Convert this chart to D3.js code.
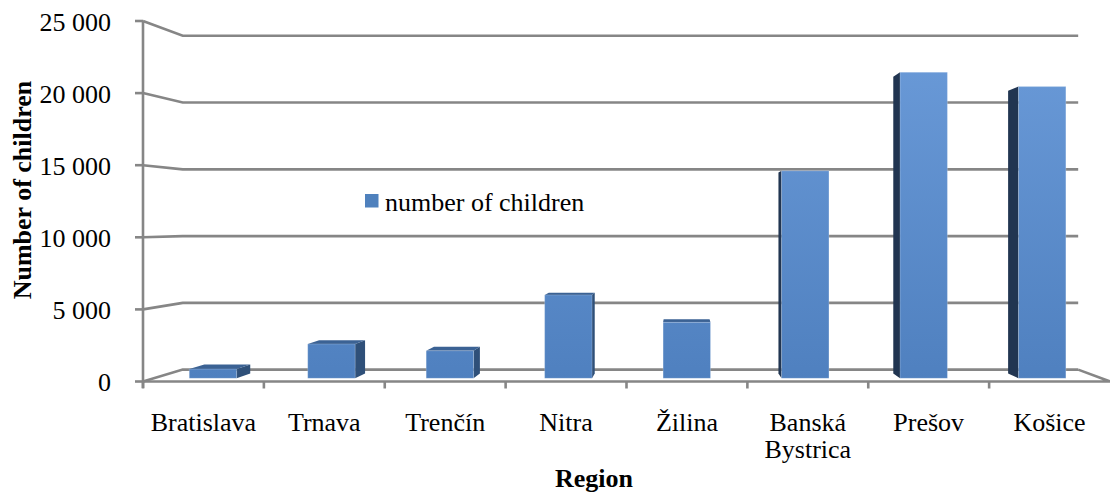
<!DOCTYPE html>
<html>
<head>
<meta charset="utf-8">
<script src="https://cdn.jsdelivr.net/npm/d3@7"></script>
<style>
  html, body { margin: 0; padding: 0; background: #fff; }
  svg { display: block; }
  text { font-family: "Liberation Serif", "Times New Roman", serif; fill: #000; }
</style>
</head>
<body>
<svg id="chart" width="1110" height="495"></svg>
<script>
// Children per region
const regions = ["Bratislava", "Trnava", "Trenčín", "Nitra", "Žilina", "Banská Bystrica", "Prešov", "Košice"];
const children = [650, 2430, 1950, 5900, 3960, 14680, 21660, 20640];
const yTicks = [0, 5000, 10000, 15000, 20000, 25000];
const yTickLabels = ["0", "5 000", "10 000", "15 000", "20 000", "25 000"];
const seriesName = "number of children";

const svg = d3.select("#chart");

// Front plane scales
const x = d3.scaleBand().domain(regions).range([143, 1110]);
const y = d3.scaleLinear().domain([0, 25000]).range([381.5, 21]);

// Simple perspective: z = 0 front plane, z = 1 back wall
const VP = [680, 221];
const depthK = 1 / 0.926 - 1;
const s = z => 1 / (1 + depthK * z);
const proj = (px, py, z) => [VP[0] + (px - VP[0]) * s(z), VP[1] + (py - VP[1]) * s(z)];
const line = d3.line();

const gridColor = "#868686";
const gridWidth = 2.6;
const xL = x.range()[0], xR = x.range()[1];

// Back wall and left wall gridlines
const grid = svg.append("g").attr("fill", "none").attr("stroke", gridColor).attr("stroke-width", gridWidth);
yTicks.forEach(t => {
  grid.append("path").attr("d", line([[xL, y(t)], proj(xL, y(t), 1), proj(xR, y(t), 1)]));
});
// Floor front edge and right edge
grid.append("path").attr("d", line([[xL, y(0)], [xR, y(0)], proj(xR, y(0), 1)]));
// Value axis line
grid.append("path").attr("d", line([[xL, y(25000)], [xL, y(0) + 6.5]]));
// Value ticks
yTicks.forEach(t => {
  grid.append("path").attr("d", line([[xL - 8, y(t)], [xL, y(t)]]));
});
// Category ticks
regions.forEach(r => {
  grid.append("path").attr("d", line([[x(r), y(0)], [x(r), y(0) + 7]]));
});

// Bar shading
const defs = svg.append("defs");
const grad = defs.append("linearGradient")
  .attr("id", "barFront").attr("gradientUnits", "userSpaceOnUse")
  .attr("x1", 0).attr("y1", y(25000)).attr("x2", 0).attr("y2", y(0));
grad.append("stop").attr("offset", "0%").attr("stop-color", "#6c9cda");
grad.append("stop").attr("offset", "100%").attr("stop-color", "#4f80bf");

const zF = 0.255, zB = 0.659;
const bars = svg.append("g");
regions.forEach((r, i) => {
  const v = children[i];
  const bw = x.bandwidth();
  const x0 = x(r) + bw * 0.3, x1 = x(r) + bw * 0.7;
  const yb = y(0), yt = y(v);
  const g = bars.append("g");
  const poly = pts => "M" + pts.map(p => p.join(",")).join("L") + "Z";
  // side face
  if (x1 < VP[0]) {
    g.append("path").attr("fill", "#2f5079")
      .attr("d", poly([proj(x1, yb, zF), proj(x1, yt, zF), proj(x1, yt, zB), proj(x1, yb, zB)]));
  } else if (x0 > VP[0]) {
    g.append("path").attr("fill", "#213551")
      .attr("d", poly([proj(x0, yb, zF), proj(x0, yt, zF), proj(x0, yt, zB), proj(x0, yb, zB)]));
  }
  // top face
  if (yt > VP[1]) {
    g.append("path").attr("fill", "#3b6294")
      .attr("d", poly([proj(x0, yt, zF), proj(x1, yt, zF), proj(x1, yt, zB), proj(x0, yt, zB)]));
  }
  // front face
  g.append("path").attr("fill", "url(#barFront)")
    .attr("stroke", "rgba(255,255,255,0.25)").attr("stroke-width", 0.8)
    .attr("d", poly([proj(x0, yb, zF), proj(x1, yb, zF), proj(x1, yt, zF), proj(x0, yt, zF)]));
});

// Value axis labels
svg.append("g").selectAll("text").data(yTicks).join("text")
  .attr("x", 111).attr("y", d => y(d) + 9.5)
  .attr("text-anchor", "end").attr("font-size", 26)
  .attr("font-family", "Liberation Serif")
  .text((d, i) => yTickLabels[i]);

// Category labels (wrap two-word names)
const catLabels = svg.append("g");
regions.forEach(r => {
  const words = r.split(" ");
  const t = catLabels.append("text")
    .attr("x", x(r) + x.bandwidth() / 2).attr("y", 431)
    .attr("text-anchor", "middle").attr("font-size", 26)
    .attr("font-family", "Liberation Serif");
  words.forEach((w, k) => {
    t.append("tspan").attr("x", x(r) + x.bandwidth() / 2).attr("dy", k === 0 ? 0 : 27).text(w);
  });
});

// Axis titles
svg.append("text").attr("x", 594).attr("y", 487)
  .attr("text-anchor", "middle").attr("font-size", 26).attr("font-weight", "bold")
  .attr("font-family", "Liberation Serif")
  .text("Region");
svg.append("text").attr("transform", "translate(31,190) rotate(-90)")
  .attr("text-anchor", "middle").attr("font-size", 26).attr("font-weight", "bold")
  .attr("font-family", "Liberation Serif")
  .text("Number of children");

// Legend
const legend = svg.append("g");
legend.append("rect").attr("x", 365).attr("y", 194).attr("width", 13.5).attr("height", 13.5).attr("fill", "#4f81bd");
legend.append("text").attr("x", 385).attr("y", 211).attr("font-size", 26)
  .attr("font-family", "Liberation Serif").text(seriesName);
</script>
</body>
</html>
